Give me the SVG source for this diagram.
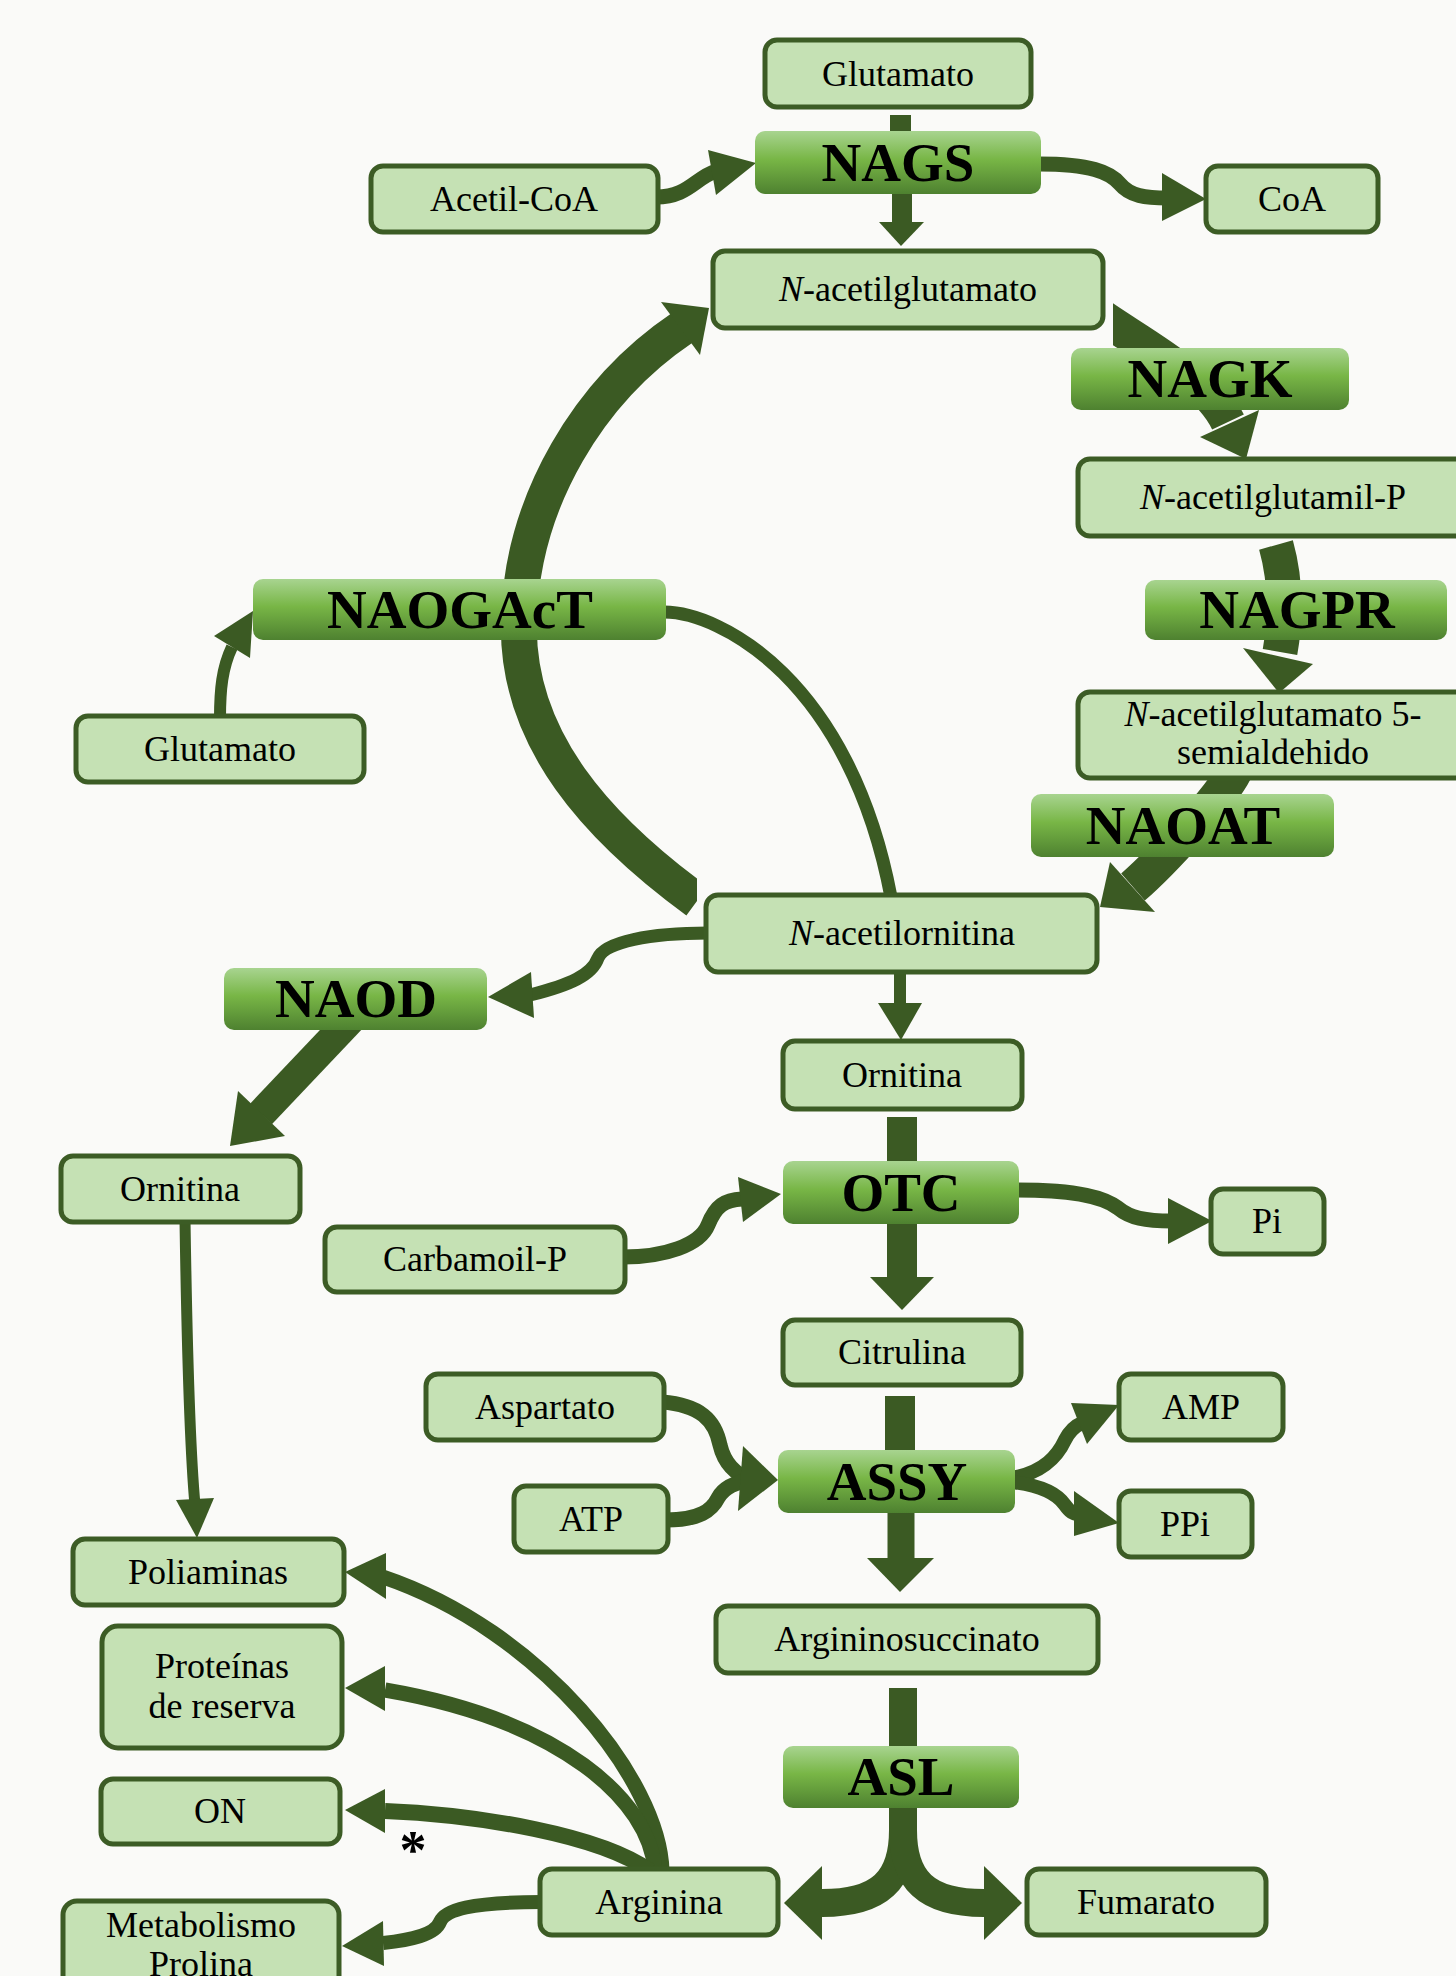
<svg xmlns="http://www.w3.org/2000/svg" width="1456" height="1976" viewBox="0 0 1456 1976">
<defs>
<linearGradient id="eg" x1="0" y1="0" x2="0" y2="1">
<stop offset="0" stop-color="#a8d490"/>
<stop offset="0.45" stop-color="#78b646"/>
<stop offset="1" stop-color="#4e8130"/>
</linearGradient>
<clipPath id="clipL"><rect x="0" y="0" width="697" height="1976"/></clipPath>
<clipPath id="clipR"><rect x="1113" y="0" width="343" height="1976"/></clipPath>
<style>
.n rect{fill:#c5e1b4;stroke:#3c5c25;stroke-width:5}
.e rect{fill:url(#eg)}
.t{font-family:"Liberation Serif",serif;font-size:36px;text-anchor:middle;fill:#000}
.et{font-family:"Liberation Serif",serif;font-weight:bold;font-size:55px;text-anchor:middle;fill:#000}
.c path,.c line{stroke:#3b5a23;fill:none}
.c polygon{fill:#3b5a23;stroke:none}
</style>
</defs>
<rect x="0" y="0" width="1456" height="1976" fill="#fafaf8"/>

<g id="connectors" class="c">
<line x1="900.5" y1="115" x2="900.5" y2="133" stroke-width="21"/>
<line x1="902" y1="192" x2="902" y2="224" stroke-width="20"/>
<polygon points="879,222 924,222 901,246"/>
<path d="M656,197 C688,197 695,178 716,171" stroke-width="15"/>
<polygon points="708,150 756,163 716,195"/>
<path d="M1039,164 C1090,164 1110,172 1120,184 C1130,196 1145,198 1168,198" stroke-width="15"/>
<polygon points="1162,173 1206,199 1162,221"/>
<path d="M1095,312 C1135,341 1207,377 1228,422" stroke-width="35" clip-path="url(#clipR)"/>
<polygon points="1200,437 1259,410 1246,459"/>
<path d="M1276,545 Q1290,595 1280,652" stroke-width="35"/>
<polygon points="1243,648 1313,664 1279,693"/>
<path d="M1234,772 C1222,796 1163,861 1133,887" stroke-width="36"/>
<polygon points="1110,862 1100,907 1155,912"/>
<path d="M697,901 C600,830 515,740 519,620 C522,500 590,390 682,328" stroke-width="36" clip-path="url(#clipL)"/>
<polygon points="661,302 709,308 700,355"/>
<path d="M664,612 C720,612 850,680 891,897" stroke-width="13"/>
<path d="M220,718 C220,690 222,668 232,647" stroke-width="12"/>
<polygon points="214,636 253,611 250,658"/>
<path d="M708,933 C650,933 605,942 598,958 C592,975 570,985 530,995" stroke-width="13"/>
<polygon points="531,972 488,997 534,1018"/>
<line x1="900" y1="970" x2="900" y2="1005" stroke-width="12"/>
<polygon points="878,1003 922,1003 901,1040"/>
<line x1="352" y1="1018" x2="261" y2="1114" stroke-width="30"/>
<polygon points="238,1091 285,1136 230,1146"/>
<path d="M185,1220 C187,1350 190,1450 195,1505" stroke-width="11"/>
<polygon points="176,1500 214,1498 197,1538"/>
<line x1="902" y1="1117" x2="902" y2="1163" stroke-width="30"/>
<line x1="902" y1="1222" x2="902" y2="1280" stroke-width="30"/>
<polygon points="870,1277 934,1277 902,1310"/>
<path d="M623,1257 C665,1257 700,1245 708,1225 C716,1205 725,1200 742,1199" stroke-width="15"/>
<polygon points="738,1177 781,1194 743,1222"/>
<path d="M1017,1190 C1080,1190 1105,1198 1118,1208 C1130,1218 1145,1221 1172,1221" stroke-width="15"/>
<polygon points="1168,1198 1212,1221 1168,1244"/>
<line x1="900" y1="1396" x2="900" y2="1452" stroke-width="30"/>
<line x1="901" y1="1511" x2="901" y2="1562" stroke-width="27"/>
<polygon points="867,1558 934,1558 900,1592"/>
<path d="M662,1402 C700,1405 715,1420 720,1445 C724,1462 735,1475 752,1480" stroke-width="15"/>
<path d="M666,1520 C700,1520 712,1510 718,1498 C724,1487 735,1482 752,1480" stroke-width="15"/>
<polygon points="743,1446 778,1480 738,1511"/>
<path d="M1012,1478 C1045,1472 1058,1455 1065,1440 C1070,1430 1075,1426 1082,1423" stroke-width="14"/>
<polygon points="1071,1403 1119,1405 1087,1444"/>
<path d="M1012,1482 C1045,1486 1058,1495 1065,1505 C1070,1512 1073,1514 1080,1515" stroke-width="14"/>
<polygon points="1074,1491 1119,1523 1074,1536"/>
<line x1="903" y1="1688" x2="903" y2="1748" stroke-width="28"/>
<line x1="903" y1="1806" x2="903" y2="1850" stroke-width="28"/>
<path d="M903,1830 C903,1880 880,1903 822,1903" stroke-width="28"/>
<path d="M903,1830 C903,1880 926,1903 984,1903" stroke-width="28"/>
<polygon points="822,1866 822,1940 784,1903"/>
<polygon points="984,1866 984,1940 1022,1903"/>
<path d="M662,1871 C660,1780 540,1630 383,1577" stroke-width="15"/>
<polygon points="386,1553 345,1572 386,1599"/>
<path d="M655,1871 C650,1800 560,1720 385,1690" stroke-width="15"/>
<polygon points="385,1666 345,1688 385,1711"/>
<path d="M650,1871 C600,1835 480,1815 385,1811" stroke-width="16"/>
<polygon points="385,1789 345,1810 385,1833"/>
<path d="M542,1902 C470,1902 445,1910 440,1922 C435,1935 410,1940 383,1943" stroke-width="14"/>
<polygon points="383,1921 342,1946 384,1966"/>
</g>

<text class="t" x="413" y="1868" style="font-size:54px;font-weight:bold">*</text>

<g id="glutamato1" class="n"><rect x="765" y="40" width="266" height="67" rx="12"/><text class="t" x="898" y="86">Glutamato</text></g>
<g id="nags" class="e"><rect x="755" y="131" width="286" height="63" rx="10"/><text class="et" x="898" y="181">NAGS</text></g>
<g id="acetilcoa" class="n"><rect x="371" y="166" width="287" height="66" rx="12"/><text class="t" x="514" y="211">Acetil-CoA</text></g>
<g id="coa" class="n"><rect x="1206" y="166" width="172" height="66" rx="12"/><text class="t" x="1292" y="211">CoA</text></g>
<g id="nacetilglutamato" class="n"><rect x="713" y="251" width="390" height="77" rx="12"/><text class="t" x="908" y="301"><tspan font-style="italic">N</tspan>-acetilglutamato</text></g>
<g id="nagk" class="e"><rect x="1071" y="348" width="278" height="62" rx="10"/><text class="et" x="1210" y="397">NAGK</text></g>
<g id="nacetilglutamilp" class="n"><rect x="1078" y="459" width="400" height="77" rx="12"/><text class="t" x="1273" y="509"><tspan font-style="italic">N</tspan>-acetilglutamil-P</text></g>
<g id="nagpr" class="e"><rect x="1145" y="580" width="302" height="60" rx="10"/><text class="et" x="1297" y="628">NAGPR</text></g>
<g id="semialdehido" class="n"><rect x="1078" y="692" width="400" height="86" rx="12"/><text class="t" x="1273" y="726"><tspan font-style="italic">N</tspan>-acetilglutamato 5-</text><text class="t" x="1273" y="764">semialdehido</text></g>
<g id="naoat" class="e"><rect x="1031" y="794" width="303" height="63" rx="10"/><text class="et" x="1183" y="844">NAOAT</text></g>
<g id="naogact" class="e"><rect x="253" y="579" width="413" height="61" rx="10"/><text class="et" x="460" y="628">NAOGAcT</text></g>
<g id="glutamato2" class="n"><rect x="76" y="716" width="288" height="66" rx="12"/><text class="t" x="220" y="761">Glutamato</text></g>
<g id="nacetilornitina" class="n"><rect x="706" y="895" width="391" height="77" rx="12"/><text class="t" x="902" y="945"><tspan font-style="italic">N</tspan>-acetilornitina</text></g>
<g id="naod" class="e"><rect x="224" y="968" width="263" height="62" rx="10"/><text class="et" x="356" y="1017">NAOD</text></g>
<g id="ornitina1" class="n"><rect x="783" y="1041" width="239" height="68" rx="12"/><text class="t" x="902" y="1087">Ornitina</text></g>
<g id="ornitina2" class="n"><rect x="61" y="1156" width="239" height="66" rx="12"/><text class="t" x="180" y="1201">Ornitina</text></g>
<g id="otc" class="e"><rect x="783" y="1161" width="236" height="63" rx="10"/><text class="et" x="901" y="1211">OTC</text></g>
<g id="carbamoilp" class="n"><rect x="325" y="1227" width="300" height="65" rx="12"/><text class="t" x="475" y="1271">Carbamoil-P</text></g>
<g id="pi" class="n"><rect x="1211" y="1189" width="113" height="65" rx="12"/><text class="t" x="1267" y="1233">Pi</text></g>
<g id="citrulina" class="n"><rect x="783" y="1320" width="238" height="65" rx="12"/><text class="t" x="902" y="1364">Citrulina</text></g>
<g id="aspartato" class="n"><rect x="426" y="1374" width="238" height="66" rx="12"/><text class="t" x="545" y="1419">Aspartato</text></g>
<g id="atp" class="n"><rect x="514" y="1486" width="154" height="66" rx="12"/><text class="t" x="591" y="1531">ATP</text></g>
<g id="assy" class="e"><rect x="778" y="1450" width="237" height="63" rx="10"/><text class="et" x="897" y="1500">ASSY</text></g>
<g id="amp" class="n"><rect x="1119" y="1374" width="164" height="66" rx="12"/><text class="t" x="1201" y="1419">AMP</text></g>
<g id="ppi" class="n"><rect x="1119" y="1491" width="133" height="66" rx="12"/><text class="t" x="1185" y="1536">PPi</text></g>
<g id="argininosuccinato" class="n"><rect x="716" y="1606" width="382" height="67" rx="12"/><text class="t" x="907" y="1651">Argininosuccinato</text></g>
<g id="asl" class="e"><rect x="783" y="1746" width="236" height="62" rx="10"/><text class="et" x="901" y="1795">ASL</text></g>
<g id="poliaminas" class="n"><rect x="73" y="1539" width="271" height="66" rx="12"/><text class="t" x="208" y="1584">Poliaminas</text></g>
<g id="proteinas" class="n"><rect x="102" y="1626" width="240" height="122" rx="16"/><text class="t" x="222" y="1678">Proteínas</text><text class="t" x="222" y="1718">de reserva</text></g>
<g id="on" class="n"><rect x="101" y="1779" width="239" height="65" rx="12"/><text class="t" x="220" y="1823">ON</text></g>
<g id="arginina" class="n"><rect x="540" y="1869" width="238" height="66" rx="12"/><text class="t" x="659" y="1914">Arginina</text></g>
<g id="fumarato" class="n"><rect x="1027" y="1869" width="239" height="66" rx="12"/><text class="t" x="1146" y="1914">Fumarato</text></g>
<g id="metabolismo" class="n"><rect x="63" y="1901" width="276" height="110" rx="14"/><text class="t" x="201" y="1937">Metabolismo</text><text class="t" x="201" y="1976">Prolina</text></g>
</svg>
